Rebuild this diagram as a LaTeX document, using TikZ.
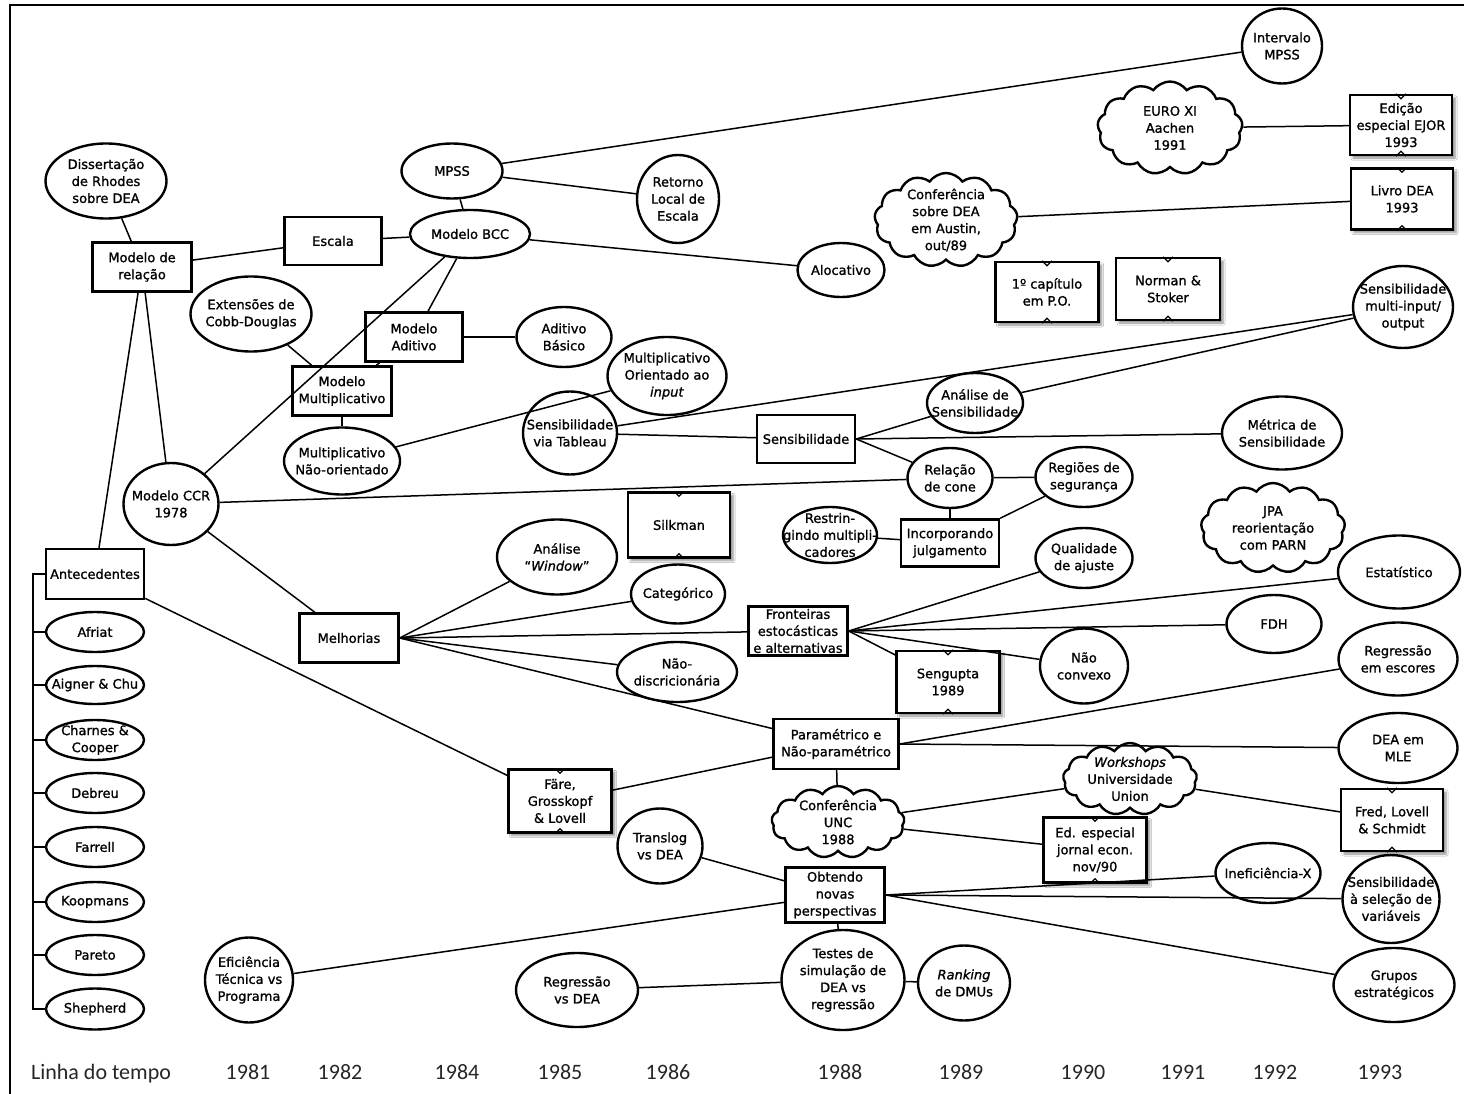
\documentclass[tikz,border=0pt]{standalone}
\usepackage{fontspec}
\setmainfont{DejaVu Sans}[BoldFont={DejaVu Sans}, BoldFeatures={FakeBold=1.2},
  BoldItalicFont={DejaVu Sans Oblique}, BoldItalicFeatures={FakeBold=1.2}]
\newfontfamily\timefont{Carlito}
\usetikzlibrary{shapes.geometric,shapes.symbols,shadows.blur}
\newcommand{\dgfont}{\fontsize{13}{17}\selectfont\bfseries}

\begin{document}
\begin{tikzpicture}[x=1pt, y=-1pt,
    every label/.style={align=center, inner sep=0pt, font=\dgfont},
    sz/.style args={#1x#2}{minimum width=#1, minimum height=#2},
    txt/.style={label={[anchor=center]center:{#1}}},
    ell/.style={ellipse, draw, line width=2.4pt, inner sep=0pt},
    box/.style={rectangle, draw, line width=2.4pt, inner sep=0pt},
    pub/.style={box, fill=white, blur shadow={shadow xshift=3pt, shadow yshift=-3pt, shadow blur steps=6, shadow opacity=45}},
    cld/.style={cloud, cloud puffs=13, cloud puff arc=110, cloud ignores aspect, draw, line width=2.4pt, inner sep=0pt},
    ln/.style={line width=1.5pt},
    notch/.style={line width=1.3pt},
    yr/.style={anchor=base, font=\timefont\fontsize{22}{24}\selectfont, text=black!85}]
  \useasboundingbox (0,0) rectangle (1464,1094);
  \fill[white] (0,0) rectangle (1464,1094);
  \draw[line width=2pt] (10,1094) -- (10,5) -- (1464,5);

  % --- upper left: relation model, BCC ---
  \node[ell, sz=121x75, txt={Dissertação\\de Rhodes\\sobre DEA}] (rhodes) at (106,181) {};
  \node[box, sz=99x49, txt={Modelo de\\relação}] (relacao) at (142,267) {};
  \node[box, sz=97x48, txt={Escala}] (escala) at (333,241) {};
  \node[ell, sz=101x55, txt={MPSS}] (mpss) at (452,171) {};
  \node[ell, sz=120x48, txt={Modelo BCC}] (bcc) at (470,234) {};
  \node[ell, sz=82x88, txt={Retorno\\Local de\\Escala}] (retorno) at (678,199) {};
  \node[ell, sz=87x54, txt={Alocativo}] (alocativo) at (841,270) {};
  \node[ell, sz=121x75, txt={Extensões de\\Cobb-Douglas}] (cobb) at (251,314) {};
  \node[box, sz=97x49, txt={Modelo\\Aditivo}] (aditivo) at (414,337) {};
  \node[ell, sz=95x60, txt={Aditivo\\Básico}] (basico) at (564,337) {};
  \node[ell, sz=119x78, txt={Multiplicativo\\Orientado ao\\\textit{input}}] (orientado) at (667,376) {};
  \node[box, sz=99x49, txt={Modelo\\Multiplicativo}] (mult) at (342,391) {};
  \node[ell, sz=116x67, txt={Multiplicativo\\Não-orientado}] (naoorient) at (342,461) {};
  \node[ell, sz=95x82, txt={Modelo CCR\\1978}] (ccr) at (171,504) {};

  % --- upper right: events and books ---
  \node[ell, sz=80x75, txt={Intervalo\\MPSS}] (intervalo) at (1282,46) {};
  \node[cld, sz=145x93, txt={EURO XI\\Aachen\\1991}] (euro) at (1170,128) {};
  \node[cld, sz=143x94, txt={Conferência\\sobre DEA\\em Austin,\\out/89}] (austin) at (946,220) {};
  \node[pub, sz=102x60, txt={Edição\\especial EJOR\\1993}] (ejor) at (1401,125) {};
  \node[pub, sz=102x61, txt={Livro DEA\\1993}] (livro) at (1402,199) {};
  \node[pub, sz=103x60, txt={1º capítulo\\em P.O.}] (capitulo) at (1047,292) {};
  \node[pub, sz=104x62, txt={Norman \&\\Stoker}] (norman) at (1168,289) {};
  \node[ell, sz=100x82, txt={Sensibilidade\\multi-input/\\output}] (multi) at (1403,307) {};

  % --- antecedents ---
  \node[box, sz=98x50, txt={Antecedentes}] (ante) at (95,574) {};
  \node[ell, sz=98x40, txt={Afriat}] (afriat) at (95,632) {};
  \node[ell, sz=98x38, txt={Aigner \& Chu}] (aigner) at (95,685) {};
  \node[ell, sz=98x40, txt={Charnes \&\\Cooper}] (charnes) at (95,740) {};
  \node[ell, sz=98x40, txt={Debreu}] (debreu) at (95,793) {};
  \node[ell, sz=98x40, txt={Farrell}] (farrell) at (95,847) {};
  \node[ell, sz=98x40, txt={Koopmans}] (koopmans) at (95,902) {};
  \node[ell, sz=98x40, txt={Pareto}] (pareto) at (95,955) {};
  \node[ell, sz=98x41, txt={Shepherd}] (shepherd) at (95,1009) {};

  % --- sensitivity ---
  \node[ell, sz=94x83, txt={Sensibilidade\\via Tableau}] (tableau) at (570,433) {};
  \node[box, sz=98x48, txt={Sensibilidade}] (sens) at (806,439) {};
  \node[ell, sz=96x60, txt={Análise de\\Sensibilidade}] (analise) at (975,403) {};
  \node[ell, sz=120x73, txt={Métrica de\\Sensibilidade}] (metrica) at (1282,433) {};
  \node[ell, sz=85x60, txt={Relação\\de cone}] (cone) at (950,478) {};
  \node[ell, sz=97x60, txt={Regiões de\\segurança}] (regioes) at (1084,477) {};
  \node[box, sz=98x47, txt={Incorporando\\julgamento}] (incorp) at (950,543) {};
  \node[ell, sz=94x56, txt={Restrin-\\gindo multipli-\\cadores}] (restr) at (830,535) {};
  \node[ell, sz=97x60, txt={Qualidade\\de ajuste}] (qualidade) at (1084,558) {};
  \node[cld, sz=144x90, txt={JPA\\reorientação\\com PARN}] (jpa) at (1273,528) {};

  % --- improvements ---
  \node[box, sz=99x49, txt={Melhorias}] (melhorias) at (349,638) {};
  \node[pub, sz=102x65, txt={Silkman}] (silkman) at (679,525) {};
  \node[ell, sz=120x75, txt={Análise\\“\textit{Window}”}] (window) at (557,557) {};
  \node[ell, sz=94x59, txt={Categórico}] (categ) at (678,594) {};
  \node[ell, sz=120x60, txt={Não-\\discricionária}] (discr) at (677,672) {};
  \node[box, sz=99x49, txt={Fronteiras\\estocásticas\\e alternativas}] (fronteiras) at (798,631) {};
  \node[ell, sz=122x73, txt={Estatístico}] (estat) at (1399,572) {};
  \node[ell, sz=95x58, txt={FDH}] (fdh) at (1274,624) {};
  \node[ell, sz=88x75, txt={Não\\convexo}] (convexo) at (1084,666) {};
  \node[ell, sz=119x73, txt={Regressão\\em escores}] (escores) at (1398,659) {};
  \node[pub, sz=103x62, txt={Sengupta\\1989}] (sengupta) at (948,682) {};

  % --- parametric and new perspectives ---
  \node[box, sz=125x50, txt={Paramétrico e\\Não-paramétrico}] (param) at (836,744) {};
  \node[ell, sz=119x70, txt={DEA em\\MLE}] (mle) at (1398,748) {};
  \node[pub, sz=103x63, txt={Färe,\\Grosskopf\\\& Lovell}] (fare) at (560,801) {};
  \node[cld, sz=133x72, txt={Conferência\\UNC\\1988}] (unc) at (838,822) {};
  \node[cld, sz=134x72, txt={\textit{Workshops}\\Universidade\\Union}] (workshops) at (1130,779) {};
  \node[pub, sz=103x65, txt={Ed. especial\\jornal econ.\\nov/90}] (edespecial) at (1095,850) {};
  \node[pub, sz=102x62, txt={Fred, Lovell\\\& Schmidt}] (fried) at (1392,820) {};
  \node[ell, sz=85x75, txt={Translog\\vs DEA}] (translog) at (660,846) {};
  \node[box, sz=99x55, txt={Obtendo\\novas\\perspectivas}] (obtendo) at (835,895) {};
  \node[ell, sz=105x60, txt={Ineficiência-X}] (ineficiencia) at (1268,873) {};
  \node[ell, sz=97x88, txt={Sensibilidade\\à seleção de\\variáveis}] (variaveis) at (1391,899) {};
  \node[ell, sz=88x85, txt={Eficiência\\Técnica vs\\Programa}] (eficiencia) at (249,980) {};
  \node[ell, sz=123x100, txt={Testes de\\simulação de\\DEA vs\\regressão}] (testes) at (843,980) {};
  \node[ell, sz=92x75, txt={\textit{Ranking}\\de DMUs}] (ranking) at (964,983) {};
  \node[ell, sz=122x74, txt={Regressão\\vs DEA}] (regdea) at (577,990) {};
  \node[ell, sz=121x74, txt={Grupos\\estratégicos}] (grupos) at (1394,985) {};

  % --- notches on the publication boxes ---
  \foreach \n in {ejor,livro,capitulo,norman,silkman,sengupta,fare,edespecial,fried} {
    \draw[notch] (\n.north) ++(-5,0) -- ++(5,5) -- ++(5,-5);
    \draw[notch] (\n.south) ++(-5,0) -- ++(5,-5) -- ++(5,5);
  }

  % --- connectors ---
  \draw[ln] (rhodes) -- (relacao);
  \draw[ln] (relacao) -- (escala);
  \draw[ln] (escala) -- (bcc);
  \draw[ln] (relacao) -- (ante);
  \draw[ln] (relacao) -- (ccr);
  \draw[ln] (mpss) -- (bcc);
  \draw[ln] (mpss) -- (intervalo);
  \draw[ln] (mpss) -- (retorno);
  \draw[ln] (bcc) -- (alocativo);
  \draw[ln] (bcc) -- (ccr);
  \draw[ln] (bcc) -- (aditivo);
  \draw[ln] (aditivo) -- (mult);
  \draw[ln] (cobb) -- (mult);
  \draw[ln] (aditivo) -- (basico);
  \draw[ln] (mult) -- (naoorient);
  \draw[ln] (naoorient) -- (orientado);
  \draw[ln] (ccr) -- (cone);
  \draw[ln] (ccr) -- (melhorias);
  \draw[ln] (ante) -- (fare);
  \foreach \n in {afriat,aigner,charnes,debreu,farrell,koopmans,pareto,shepherd}
    \draw[ln] (ante.west) -- ++(-12,0) |- (\n.west);
  \foreach \n in {window,categ,fronteiras,discr,param}
    \draw[ln] (melhorias.east) -- (\n);
  \draw[ln] (tableau) -- (sens);
  \draw[ln] (tableau) -- (multi);
  \foreach \n in {analise,metrica,cone}
    \draw[ln] (sens.east) -- (\n);
  \draw[ln] (analise) -- (multi);
  \draw[ln] (cone) -- (regioes);
  \draw[ln] (cone) -- (incorp);
  \draw[ln] (restr) -- (incorp);
  \draw[ln] (incorp) -- (regioes);
  \foreach \n in {qualidade,estat,fdh,convexo,sengupta}
    \draw[ln] (fronteiras.east) -- (\n);
  \draw[ln] (param) -- (fare);
  \draw[ln] (param.east) -- (escores);
  \draw[ln] (param.east) -- (mle);
  \draw[ln] (param) -- (unc);
  \draw[ln] (unc) -- (workshops);
  \draw[ln] (unc) -- (edespecial);
  \draw[ln] (workshops) -- (fried);
  \draw[ln] (translog) -- (obtendo);
  \draw[ln] (obtendo) -- (eficiencia);
  \foreach \n in {ineficiencia,variaveis,grupos}
    \draw[ln] (obtendo.east) -- (\n);
  \draw[ln] (obtendo) -- (testes);
  \draw[ln] (testes) -- (regdea);
  \draw[ln] (testes) -- (ranking);
  \draw[ln] (euro) -- (ejor);
  \draw[ln] (austin) -- (livro);

  % --- time line ---
  \node[yr] (linha) at (101,1079) {Linha do tempo};
  \foreach \y/\xx in {1981/248,1982/340,1984/457,1985/560,1986/668,1988/840,1989/961,1990/1083,1991/1183,1992/1275,1993/1380}
    \node[yr] (y\y) at (\xx,1079) {\y};
\end{tikzpicture}
\end{document}
